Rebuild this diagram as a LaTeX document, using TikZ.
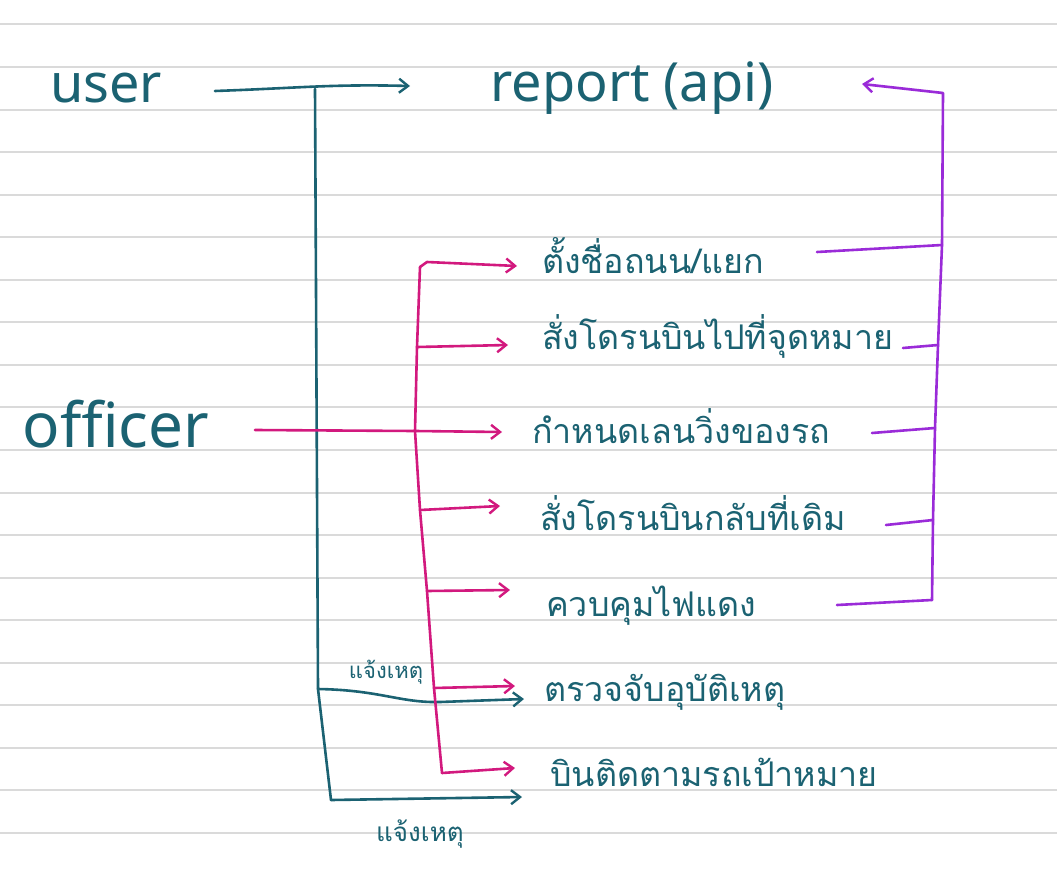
\documentclass[tikz,border=0pt]{standalone}
\usepackage{fontspec}
\usetikzlibrary{arrows.meta}
\setmainfont{Noto Sans}
\newfontfamily\thai[Script=Thai]{Loma}
\definecolor{ink}{HTML}{1B6272}
\definecolor{mag}{HTML}{D2197E}
\definecolor{pur}{HTML}{9A2BD8}
\definecolor{rule}{HTML}{DADADA}
\tikzset{
  lat/.style={text=ink, font=\fontsize{54}{54}\selectfont, inner sep=0pt},
  task/.style={text=ink, font=\thai\fontsize{34}{34}\selectfont, inner sep=0pt, anchor=west},
  lab/.style={text=ink, font=\thai\fontsize{22}{22}\selectfont, inner sep=0pt},
  tealline/.style={draw=ink, line width=2.6pt, line cap=round, line join=round},
  magline/.style={draw=mag, line width=2.6pt, line cap=round, line join=round},
  purline/.style={draw=pur, line width=2.6pt, line cap=round, line join=round},
  tip/.style={-{Straight Barb[length=9pt,width=14pt,line width=2.4pt]}}
}
\begin{document}
\begin{tikzpicture}[x=1pt,y=-1pt]
\useasboundingbox (0,0) rectangle (1057,872);
\fill[white] (0,0) rectangle (1057,872);
\foreach \k in {0,...,19}{
  \draw[rule, line width=2pt] (0,24.5+42.55*\k) -- (1057,24.5+42.55*\k);
}
% texts
\node[lat] (user) at (106,88) {user};
\node[lat] (report) at (632,88) {report (api)};
\node[lat, font=\fontsize{62}{62}\selectfont] (officer) at (116,424) {officer};
\node[task] (t1) at (542,256) {ตั้งชื่อถนน/แยก};
\node[task] (t2) at (542,336) {สั่งโดรนบินไปที่จุดหมาย};
\node[task] (t3) at (532,426) {กำหนดเลนวิ่งของรถ};
\node[task] (t4) at (540,513) {สั่งโดรนบินกลับที่เดิม};
\node[task] (t5) at (546,606) {ควบคุมไฟแดง};
\node[task] (t6) at (544,692) {ตรวจจับอุบัติเหตุ};
\node[task] (t7) at (550,772) {บินติดตามรถเป้าหมาย};
\node[lab] (l1) at (386,672) {แจ้งเหตุ};
\node[lab, font=\thai\fontsize{26}{26}\selectfont] (l2) at (420,834) {แจ้งเหตุ};
% teal
\coordinate (uA) at (215,91);
\coordinate (uB) at (410,86);
\coordinate (uJ) at (315,89);
\coordinate (tA) at (318,689);
\coordinate (tB) at (331,800);
\coordinate (tipA) at (524,699);
\coordinate (tipB) at (522,797);
\draw[tealline, tip] (uA) .. controls (300,88) and (330,84) .. (uB);
\draw[tealline] (uJ) -- (tA) -- (tB);
\draw[tealline, tip] (tA) .. controls (380,690) and (400,703) .. (440,702) -- (tipA);
\draw[tealline, tip] (tB) -- (tipB);
% magenta
\coordinate (oA) at (255,430);
\coordinate (b1) at (420,267);
\coordinate (b2) at (417,347);
\coordinate (b3) at (415,431);
\coordinate (b4) at (420,510);
\coordinate (b5) at (427,591);
\coordinate (b6) at (434,688);
\coordinate (b7) at (442,773);
\coordinate (m1) at (517,266);
\coordinate (m2) at (508,345);
\coordinate (m3) at (502,432);
\coordinate (m4) at (500,506);
\coordinate (m5) at (510,590);
\coordinate (m6) at (515,686);
\coordinate (m7) at (515,768);
\draw[magline] (b1) -- (b2) -- (b3) -- (b4) -- (b5) -- (b6) -- (b7);
\draw[magline, tip] (oA) -- (b3) -- (m3);
\draw[magline, tip] (b1) -- (427,262) -- (m1);
\draw[magline, tip] (b2) -- (m2);
\draw[magline, tip] (b4) -- (m4);
\draw[magline, tip] (b5) -- (m5);
\draw[magline, tip] (b6) -- (m6);
\draw[magline, tip] (b7) -- (m7);
% purple
\coordinate (p0) at (943,93);
\coordinate (p1) at (942,245);
\coordinate (p2) at (938,345);
\coordinate (p3) at (935,428);
\coordinate (p4) at (933,520);
\coordinate (p5) at (932,600);
\coordinate (pTip) at (862,84);
\draw[purline] (817,252) -- (p1);
\draw[purline] (903,348) -- (p2);
\draw[purline] (872,433) -- (p3);
\draw[purline] (886,525) -- (p4);
\draw[purline] (837,605) -- (p5);
\draw[purline, tip] (p5) -- (p4) -- (p3) -- (p2) -- (p1) -- (p0) -- (pTip);
\end{tikzpicture}
\end{document}
